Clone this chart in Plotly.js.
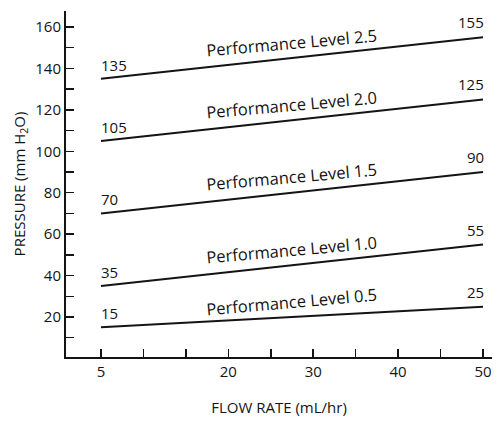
<!DOCTYPE html>
<html>
<head>
<meta charset="utf-8">
<script src="https://cdn.plot.ly/plotly-3.0.1.min.js"></script>
<style>html,body{margin:0;padding:0;background:#fff;}#chart{width:497px;height:422px;}</style>
</head>
<body>
<div id="chart"></div>
<script>
// Data
const flowRate = [5, 50];
const levels = ["Performance Level 0.5", "Performance Level 1.0", "Performance Level 1.5", "Performance Level 2.0", "Performance Level 2.5"];
const pressureAt5 = [15, 35, 70, 105, 135];
const pressureAt50 = [25, 55, 90, 125, 155];
const xTickVals = [5, 10, 15, 20, 25, 30, 35, 40, 45, 50];
const xTickText = ["5", " ", " ", "20", " ", "30", " ", "40", " ", "50"];
const yTickVals = [10, 20, 30, 40, 50, 60, 70, 80, 90, 100, 110, 120, 130, 140, 150, 160];
const yTickText = [" ", "20", " ", "40", " ", "60", " ", "80", " ", "100", " ", "120", " ", "140", " ", "160"];

const FONT = "Open Sans, sans-serif";
const INK = "#141414";

const traces = levels.map((name, i) => ({
  type: "scatter", mode: "lines", name: name,
  x: flowRate, y: [pressureAt5[i], pressureAt50[i]],
  line: {color: INK, width: 2}, hoverinfo: "skip"
}));

const annotations = [];
const labelX = 27.5;
levels.forEach((name, i) => {
  const y0 = pressureAt5[i], y1 = pressureAt50[i];
  annotations.push({x: flowRate[0], y: y0, text: String(y0), showarrow: false,
    xanchor: "left", yanchor: "bottom", xshift: -2, yshift: 2,
    font: {family: FONT, size: 15, color: INK}});
  annotations.push({x: flowRate[1], y: y1, text: String(y1), showarrow: false,
    xanchor: "right", yanchor: "bottom", xshift: 3, yshift: 3,
    font: {family: FONT, size: 15, color: INK}});
  const ym = y0 + (y1 - y0) * (labelX - flowRate[0]) / (flowRate[1] - flowRate[0]);
  annotations.push({x: labelX, y: ym, text: name, showarrow: false,
    xanchor: "center", yanchor: "middle", yshift: 16, textangle: -5,
    font: {family: FONT, size: 16.5, color: INK}});
});

const layout = {
  width: 497, height: 422,
  margin: {l: 66, r: 5, t: 11, b: 65},
  paper_bgcolor: "#ffffff", plot_bgcolor: "#ffffff",
  showlegend: false,
  font: {family: FONT, color: INK},
  xaxis: {
    range: [0.88, 51.06], tickmode: "array", tickvals: xTickVals, ticktext: xTickText,
    ticks: "inside", ticklen: 8, tickwidth: 1.5, tickcolor: INK,
    showline: true, linecolor: INK, linewidth: 2, showgrid: false, zeroline: false,
    tickfont: {family: FONT, size: 15, color: INK},
    title: {text: "FLOW RATE (mL/hr)", font: {family: FONT, size: 15, color: INK}, standoff: 22}
  },
  yaxis: {
    range: [0.7, 167.7], tickmode: "array", tickvals: yTickVals, ticktext: yTickText,
    ticks: "inside", ticklen: 8, tickwidth: 1.5, tickcolor: INK,
    showline: true, linecolor: INK, linewidth: 2, showgrid: false, zeroline: false,
    tickfont: {family: FONT, size: 15, color: INK},
    title: {text: "PRESSURE (mm H<sub>2</sub>O)", font: {family: FONT, size: 15, color: INK}, standoff: 6}
  },
  annotations: annotations
};

Plotly.newPlot("chart", traces, layout, {displayModeBar: false, staticPlot: true});
</script>
</body>
</html>
